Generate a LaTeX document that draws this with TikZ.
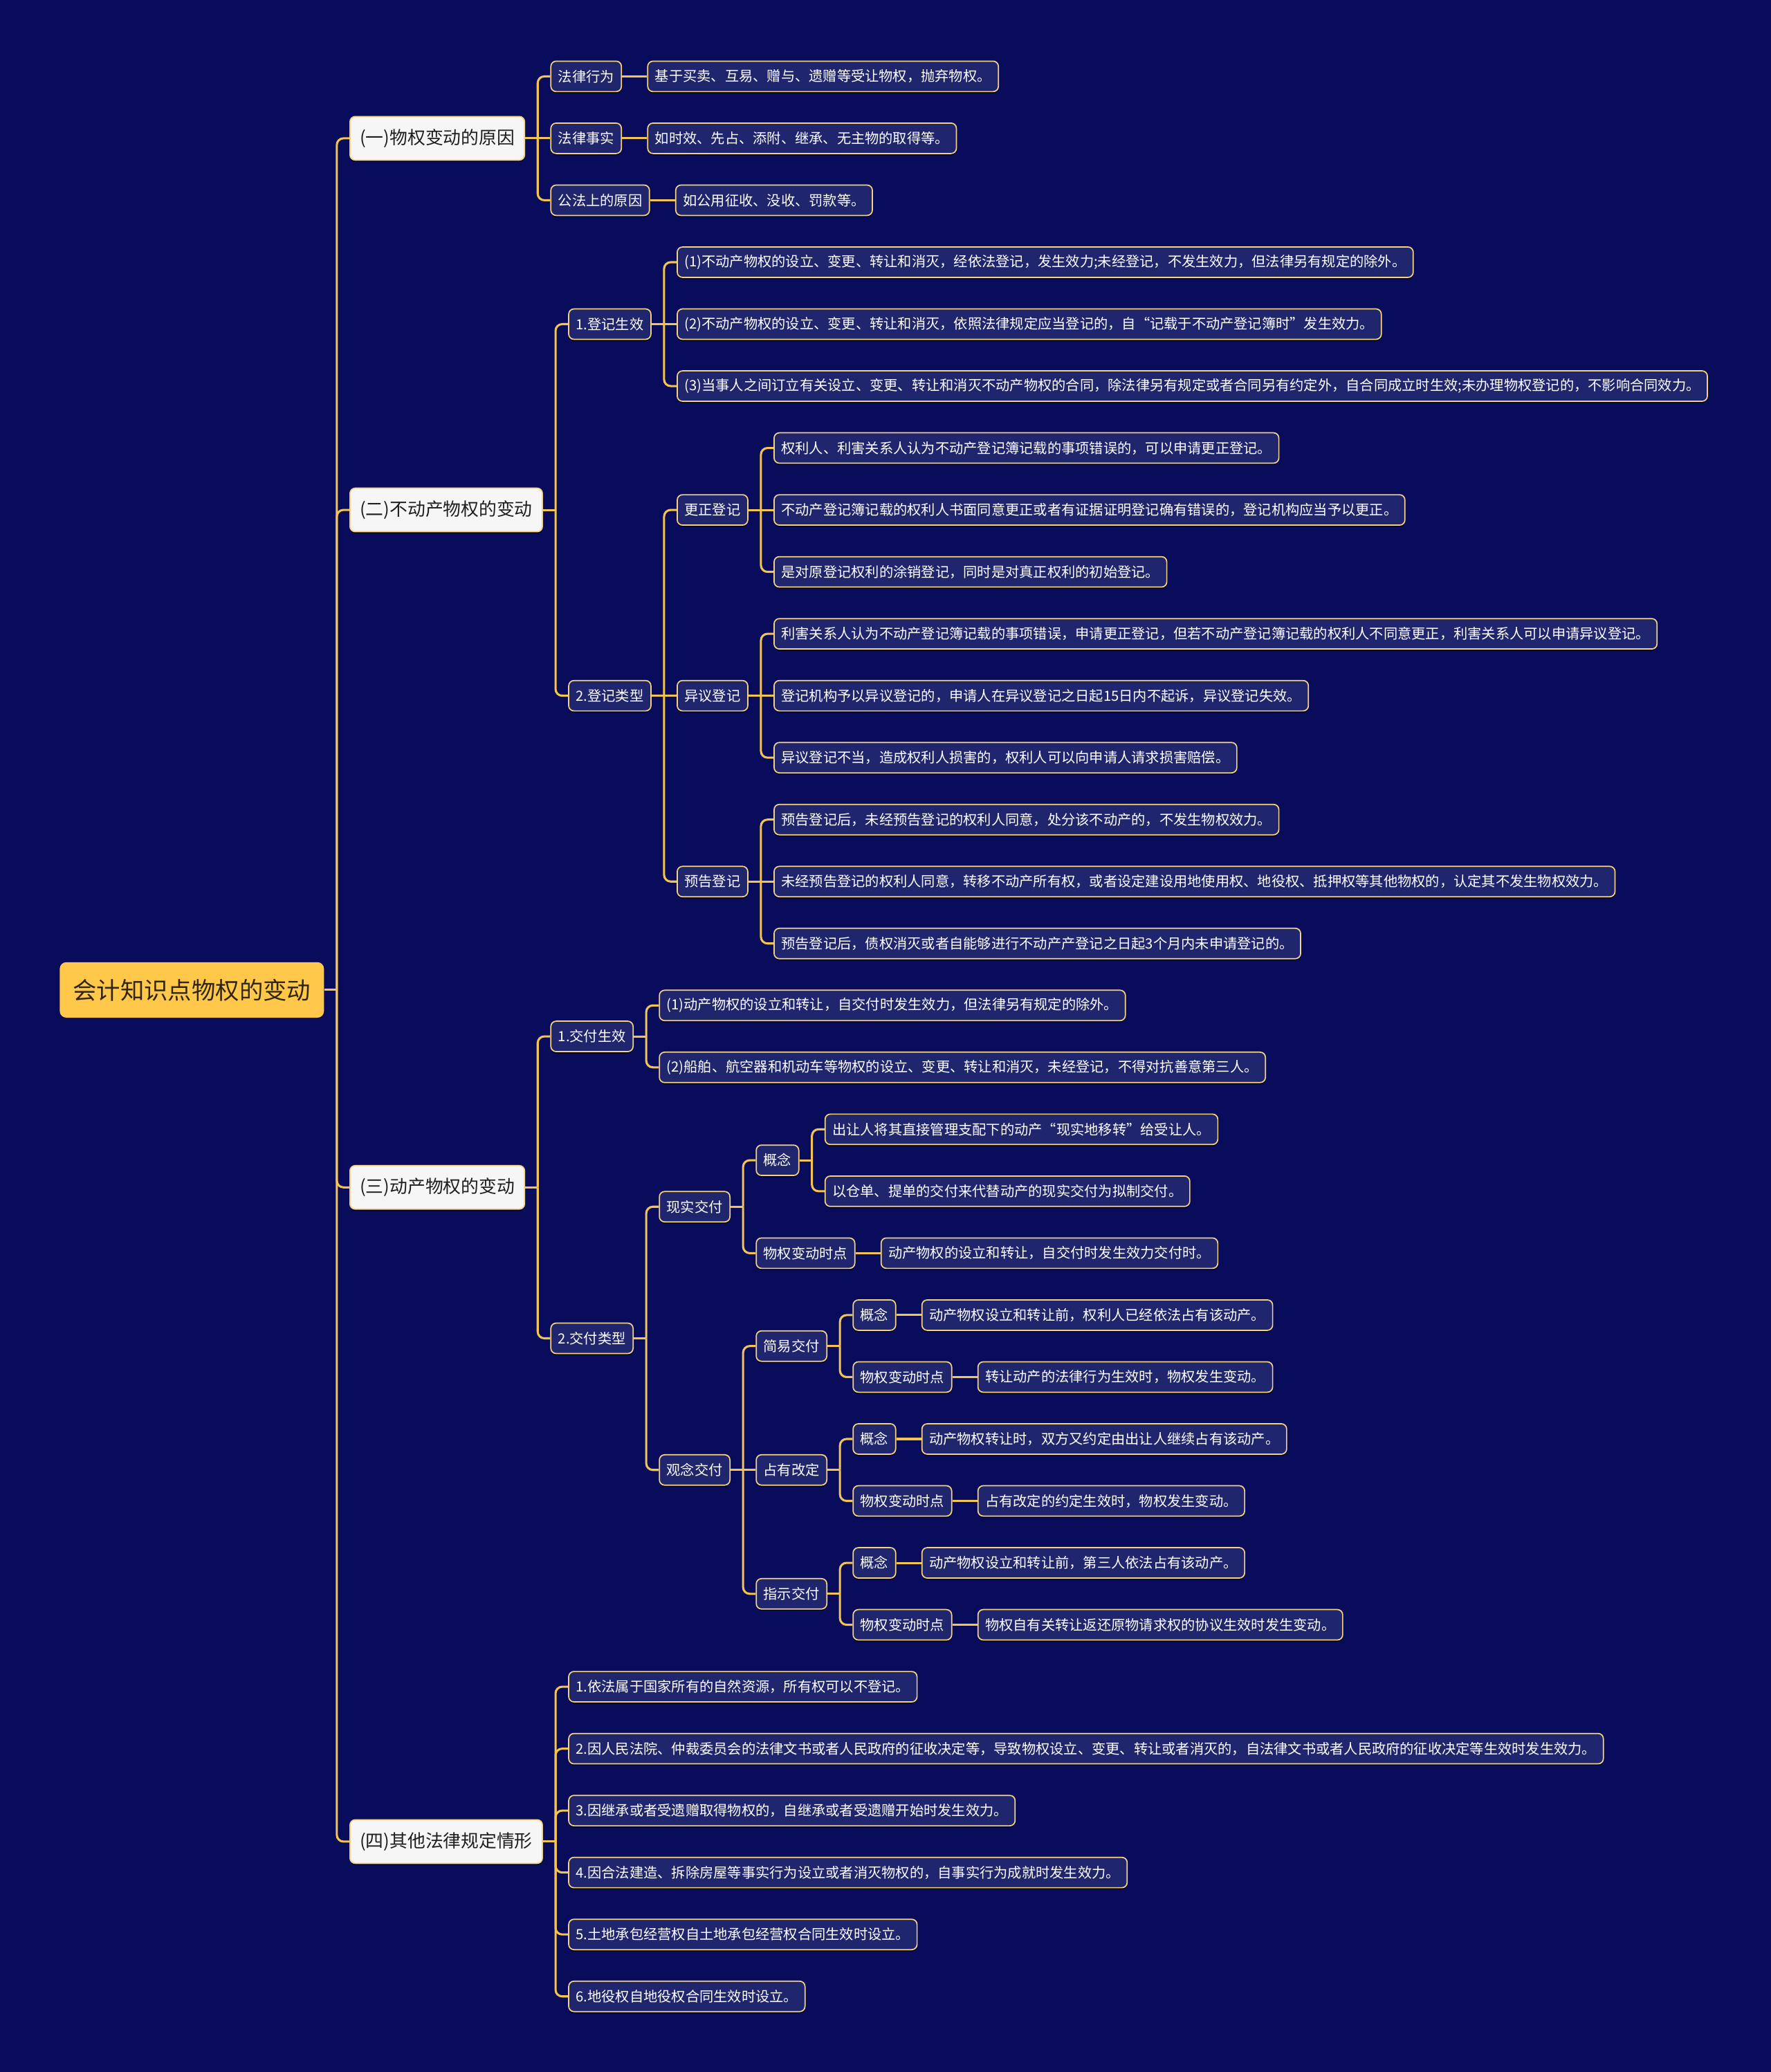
\documentclass[tikz,border=0pt]{standalone}
\usepackage{fontspec}
\setmainfont{Noto Sans CJK SC}
\usetikzlibrary{shadows}
\definecolor{bgC}{RGB}{8,12,90}
\definecolor{leafC}{RGB}{32,38,110}
\definecolor{borderC}{RGB}{245,210,130}
\definecolor{lineC}{RGB}{243,196,80}
\definecolor{rootC}{RGB}{255,200,75}
\definecolor{rootT}{RGB}{50,38,10}
\definecolor{topC}{RGB}{246,246,246}
\definecolor{topT}{RGB}{30,30,30}
\tikzset{
  conn/.style={draw=lineC, line width=1.6pt},
  box/.style={rounded corners=4pt, draw=borderC, line width=0.9pt, fill=leafC, text=white,
    font=\fontsize{10.6}{12}\selectfont, minimum height=23pt, inner xsep=5.5pt, inner ysep=0pt,
    drop shadow={shadow xshift=0pt, shadow yshift=-1.3pt, opacity=0.6, fill=black}},
  topbox/.style={box, fill=topC, text=topT, font=\fontsize{13.5}{15}\selectfont,
    minimum height=33pt, inner xsep=7.5pt},
  rootbox/.style={rounded corners=5pt, fill=rootC, text=rootT, font=\fontsize{18}{20}\selectfont,
    minimum height=42pt, inner xsep=10pt, inner ysep=0pt},
}
% #1 style, #2 name, #3 parent, #4 row offset, #5 text
\newcommand\kid[5]{\node[#1, anchor=west, xshift=19pt, yshift={-(#4)*46.87pt}] (#2) at (#3.east) {#5};}
\newcommand\lnk[2]{\draw[conn] (#1.east) -- ([xshift=9.5pt]#1.east);
  \draw[conn, rounded corners=5pt] ([xshift=9.5pt]#1.east) |- (#2.west);}
\newcommand\lnkm[2]{\draw[conn] (#1.east) -- (#2.west);}
\begin{document}
\begin{tikzpicture}[x=1pt, y=-1pt]
\fill[bgC] (0,0) rectangle (1340,1568);
\useasboundingbox (0,0) rectangle (1340,1568);

\node[rootbox, anchor=west] (root) at (45,{57.8+46.87*14.75}) {会计知识点物权的变动};

% level 1
\kid{topbox}{la}{root}{-13.75}{(一)物权变动的原因}
\kid{topbox}{lb}{root}{-7.75}{(二)不动产物权的变动}
\kid{topbox}{lc}{root}{3.1875}{(三)动产物权的变动}
\kid{topbox}{ld}{root}{13.75}{(四)其他法律规定情形}

% group 1
\kid{box}{a1}{la}{-1}{法律行为}
\kid{box}{a2}{la}{0}{法律事实}
\kid{box}{a3}{la}{1}{公法上的原因}
\kid{box}{a1x}{a1}{0}{基于买卖、互易、赠与、遗赠等受让物权，抛弃物权。}
\kid{box}{a2x}{a2}{0}{如时效、先占、添附、继承、无主物的取得等。}
\kid{box}{a3x}{a3}{0}{如公用征收、没收、罚款等。}

% group 2
\kid{box}{b1}{lb}{-3}{1.登记生效}
\kid{box}{b2}{lb}{3}{2.登记类型}
\kid{box}{b11}{b1}{-1}{(1)不动产物权的设立、变更、转让和消灭，经依法登记，发生效力;未经登记，不发生效力，但法律另有规定的除外。}
\kid{box}{b12}{b1}{0}{(2)不动产物权的设立、变更、转让和消灭，依照法律规定应当登记的，自“记载于不动产登记簿时”发生效力。}
\kid{box}{b13}{b1}{1}{(3)当事人之间订立有关设立、变更、转让和消灭不动产物权的合同，除法律另有规定或者合同另有约定外，自合同成立时生效;未办理物权登记的，不影响合同效力。}
\kid{box}{b21}{b2}{-3}{更正登记}
\kid{box}{b22}{b2}{0}{异议登记}
\kid{box}{b23}{b2}{3}{预告登记}
\kid{box}{b211}{b21}{-1}{权利人、利害关系人认为不动产登记簿记载的事项错误的，可以申请更正登记。}
\kid{box}{b212}{b21}{0}{不动产登记簿记载的权利人书面同意更正或者有证据证明登记确有错误的，登记机构应当予以更正。}
\kid{box}{b213}{b21}{1}{是对原登记权利的涂销登记，同时是对真正权利的初始登记。}
\kid{box}{b221}{b22}{-1}{利害关系人认为不动产登记簿记载的事项错误，申请更正登记，但若不动产登记簿记载的权利人不同意更正，利害关系人可以申请异议登记。}
\kid{box}{b222}{b22}{0}{登记机构予以异议登记的，申请人在异议登记之日起15日内不起诉，异议登记失效。}
\kid{box}{b223}{b22}{1}{异议登记不当，造成权利人损害的，权利人可以向申请人请求损害赔偿。}
\kid{box}{b231}{b23}{-1}{预告登记后，未经预告登记的权利人同意，处分该不动产的，不发生物权效力。}
\kid{box}{b232}{b23}{0}{未经预告登记的权利人同意，转移不动产所有权，或者设定建设用地使用权、地役权、抵押权等其他物权的，认定其不发生物权效力。}
\kid{box}{b233}{b23}{1}{预告登记后，债权消灭或者自能够进行不动产产登记之日起3个月内未申请登记的。}

% group 3
\kid{box}{c1}{lc}{-2.4375}{1.交付生效}
\kid{box}{c2}{lc}{2.4375}{2.交付类型}
\kid{box}{c11}{c1}{-0.5}{(1)动产物权的设立和转让，自交付时发生效力，但法律另有规定的除外。}
\kid{box}{c12}{c1}{0.5}{(2)船舶、航空器和机动车等物权的设立、变更、转让和消灭，未经登记，不得对抗善意第三人。}
\kid{box}{c21}{c2}{-2.125}{现实交付}
\kid{box}{c22}{c2}{2.125}{观念交付}
\kid{box}{c211}{c21}{-0.75}{概念}
\kid{box}{c212}{c21}{0.75}{物权变动时点}
\kid{box}{c2111}{c211}{-0.5}{出让人将其直接管理支配下的动产“现实地移转”给受让人。}
\kid{box}{c2112}{c211}{0.5}{以仓单、提单的交付来代替动产的现实交付为拟制交付。}
\kid{box}{c2121}{c212}{0}{动产物权的设立和转让，自交付时发生效力交付时。}
\kid{box}{c221}{c22}{-2}{简易交付}
\kid{box}{c222}{c22}{0}{占有改定}
\kid{box}{c223}{c22}{2}{指示交付}
\kid{box}{c2211}{c221}{-0.5}{概念}
\kid{box}{c2212}{c221}{0.5}{物权变动时点}
\kid{box}{c2221}{c222}{-0.5}{概念}
\kid{box}{c2222}{c222}{0.5}{物权变动时点}
\kid{box}{c2231}{c223}{-0.5}{概念}
\kid{box}{c2232}{c223}{0.5}{物权变动时点}
\kid{box}{d2211}{c2211}{0}{动产物权设立和转让前，权利人已经依法占有该动产。}
\kid{box}{d2212}{c2212}{0}{转让动产的法律行为生效时，物权发生变动。}
\kid{box}{d2221}{c2221}{0}{动产物权转让时，双方又约定由出让人继续占有该动产。}
\kid{box}{d2222}{c2222}{0}{占有改定的约定生效时，物权发生变动。}
\kid{box}{d2231}{c2231}{0}{动产物权设立和转让前，第三人依法占有该动产。}
\kid{box}{d2232}{c2232}{0}{物权自有关转让返还原物请求权的协议生效时发生变动。}

% group 4
\kid{box}{d1}{ld}{-2.5}{1.依法属于国家所有的自然资源，所有权可以不登记。}
\kid{box}{d2}{ld}{-1.5}{2.因人民法院、仲裁委员会的法律文书或者人民政府的征收决定等，导致物权设立、变更、转让或者消灭的，自法律文书或者人民政府的征收决定等生效时发生效力。}
\kid{box}{d3}{ld}{-0.5}{3.因继承或者受遗赠取得物权的，自继承或者受遗赠开始时发生效力。}
\kid{box}{d4}{ld}{0.5}{4.因合法建造、拆除房屋等事实行为设立或者消灭物权的，自事实行为成就时发生效力。}
\kid{box}{d5}{ld}{1.5}{5.土地承包经营权自土地承包经营权合同生效时设立。}
\kid{box}{d6}{ld}{2.5}{6.地役权自地役权合同生效时设立。}

% connectors
\lnk{root}{la}\lnk{root}{lb}\lnk{root}{lc}\lnk{root}{ld}
\lnk{la}{a1}\lnkm{la}{a2}\lnk{la}{a3}
\lnkm{a1}{a1x}\lnkm{a2}{a2x}\lnkm{a3}{a3x}
\lnk{lb}{b1}\lnk{lb}{b2}
\lnk{b1}{b11}\lnkm{b1}{b12}\lnk{b1}{b13}
\lnk{b2}{b21}\lnkm{b2}{b22}\lnk{b2}{b23}
\lnk{b21}{b211}\lnkm{b21}{b212}\lnk{b21}{b213}
\lnk{b22}{b221}\lnkm{b22}{b222}\lnk{b22}{b223}
\lnk{b23}{b231}\lnkm{b23}{b232}\lnk{b23}{b233}
\lnk{lc}{c1}\lnk{lc}{c2}
\lnk{c1}{c11}\lnk{c1}{c12}
\lnk{c2}{c21}\lnk{c2}{c22}
\lnk{c21}{c211}\lnk{c21}{c212}
\lnk{c211}{c2111}\lnk{c211}{c2112}
\lnkm{c212}{c2121}
\lnk{c22}{c221}\lnkm{c22}{c222}\lnk{c22}{c223}
\lnk{c221}{c2211}\lnk{c221}{c2212}
\lnk{c222}{c2221}\lnk{c222}{c2222}
\lnk{c223}{c2231}\lnk{c223}{c2232}
\lnkm{c2211}{d2211}\lnkm{c2212}{d2212}
\lnkm{c2221}{d2221}\lnkm{c2222}{d2222}
\lnkm{c2231}{d2231}\lnkm{c2232}{d2232}
\lnk{ld}{d1}\lnk{ld}{d2}\lnk{ld}{d3}\lnk{ld}{d4}\lnk{ld}{d5}\lnk{ld}{d6}
\end{tikzpicture}
\end{document}
